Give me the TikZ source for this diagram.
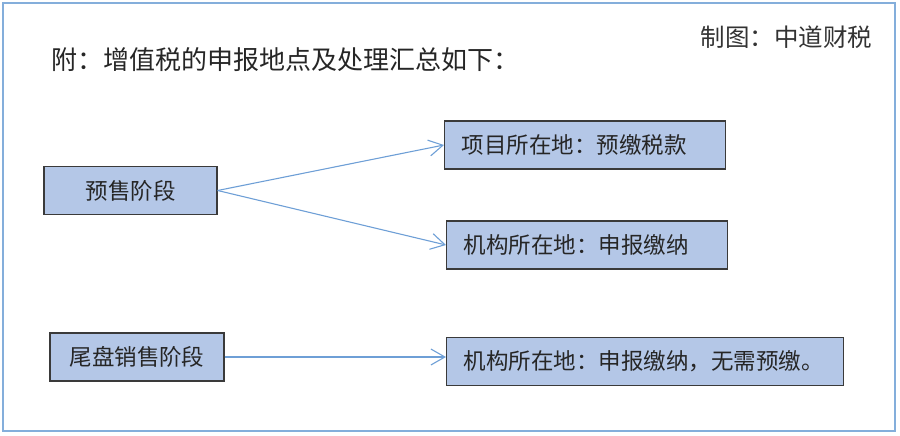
\documentclass[tikz,border=0pt]{standalone}
\usepackage{fontspec}
\newfontfamily\cjk{Noto Sans CJK SC}
\usetikzlibrary{arrows.meta,positioning}
\definecolor{boxblue}{HTML}{B4C7E7}
\definecolor{lineblue}{HTML}{6E9FD6}
\definecolor{frameblue}{HTML}{84AEDB}
\definecolor{edgegray}{HTML}{3A3A3A}
\tikzstyle{stage} = [rectangle, draw=edgegray, line width=1.2pt, fill=boxblue, minimum height=48pt, text centered, text=black!85, font=\cjk\fontsize{22.5}{27}\selectfont]
\tikzstyle{place} = [stage, anchor=west, align=left, inner xsep=17pt]

\begin{document}
\begin{tikzpicture}[x=1pt,y=-1pt,->,>={Straight Barb[length=14pt,width=16pt]},auto]
    \useasboundingbox (0,0) rectangle (900,436);
    \draw[-,frameblue,line width=2pt] (3,3) rectangle (895,431);

        \node[anchor=west,font=\cjk\fontsize{26}{31}\selectfont,text=black!85] (Title) at (48,60) {附：增值税的申报地点及处理汇总如下：};
        \node[anchor=east,font=\cjk\fontsize{24.5}{29}\selectfont,text=black!80] (Maker) at (876,37) {制图：中道财税};

        \node[stage,minimum width=173pt] (Pre) at (130.5,190.5) {预售阶段};
        \node[place,text width=247pt] (Proj) at (444,145) {项目所在地：预缴税款};
        \node[place,text width=247pt] (Org) at (446,245) {机构所在地：申报缴纳};

        \node[stage,minimum width=174pt] (Tail) at (137,357) {尾盘销售阶段};
        \node[place,text width=363pt] (OrgTail) at (446,361.5) {机构所在地：申报缴纳，无需预缴。};

        \path[every edge/.append style={draw=lineblue,line width=1.1pt}]
              (Pre.east)  edge (Proj.west)
                          edge (Org.west)
              (Tail.east) edge (Tail.east -| OrgTail.west);
        \end{tikzpicture}
\end{document}
